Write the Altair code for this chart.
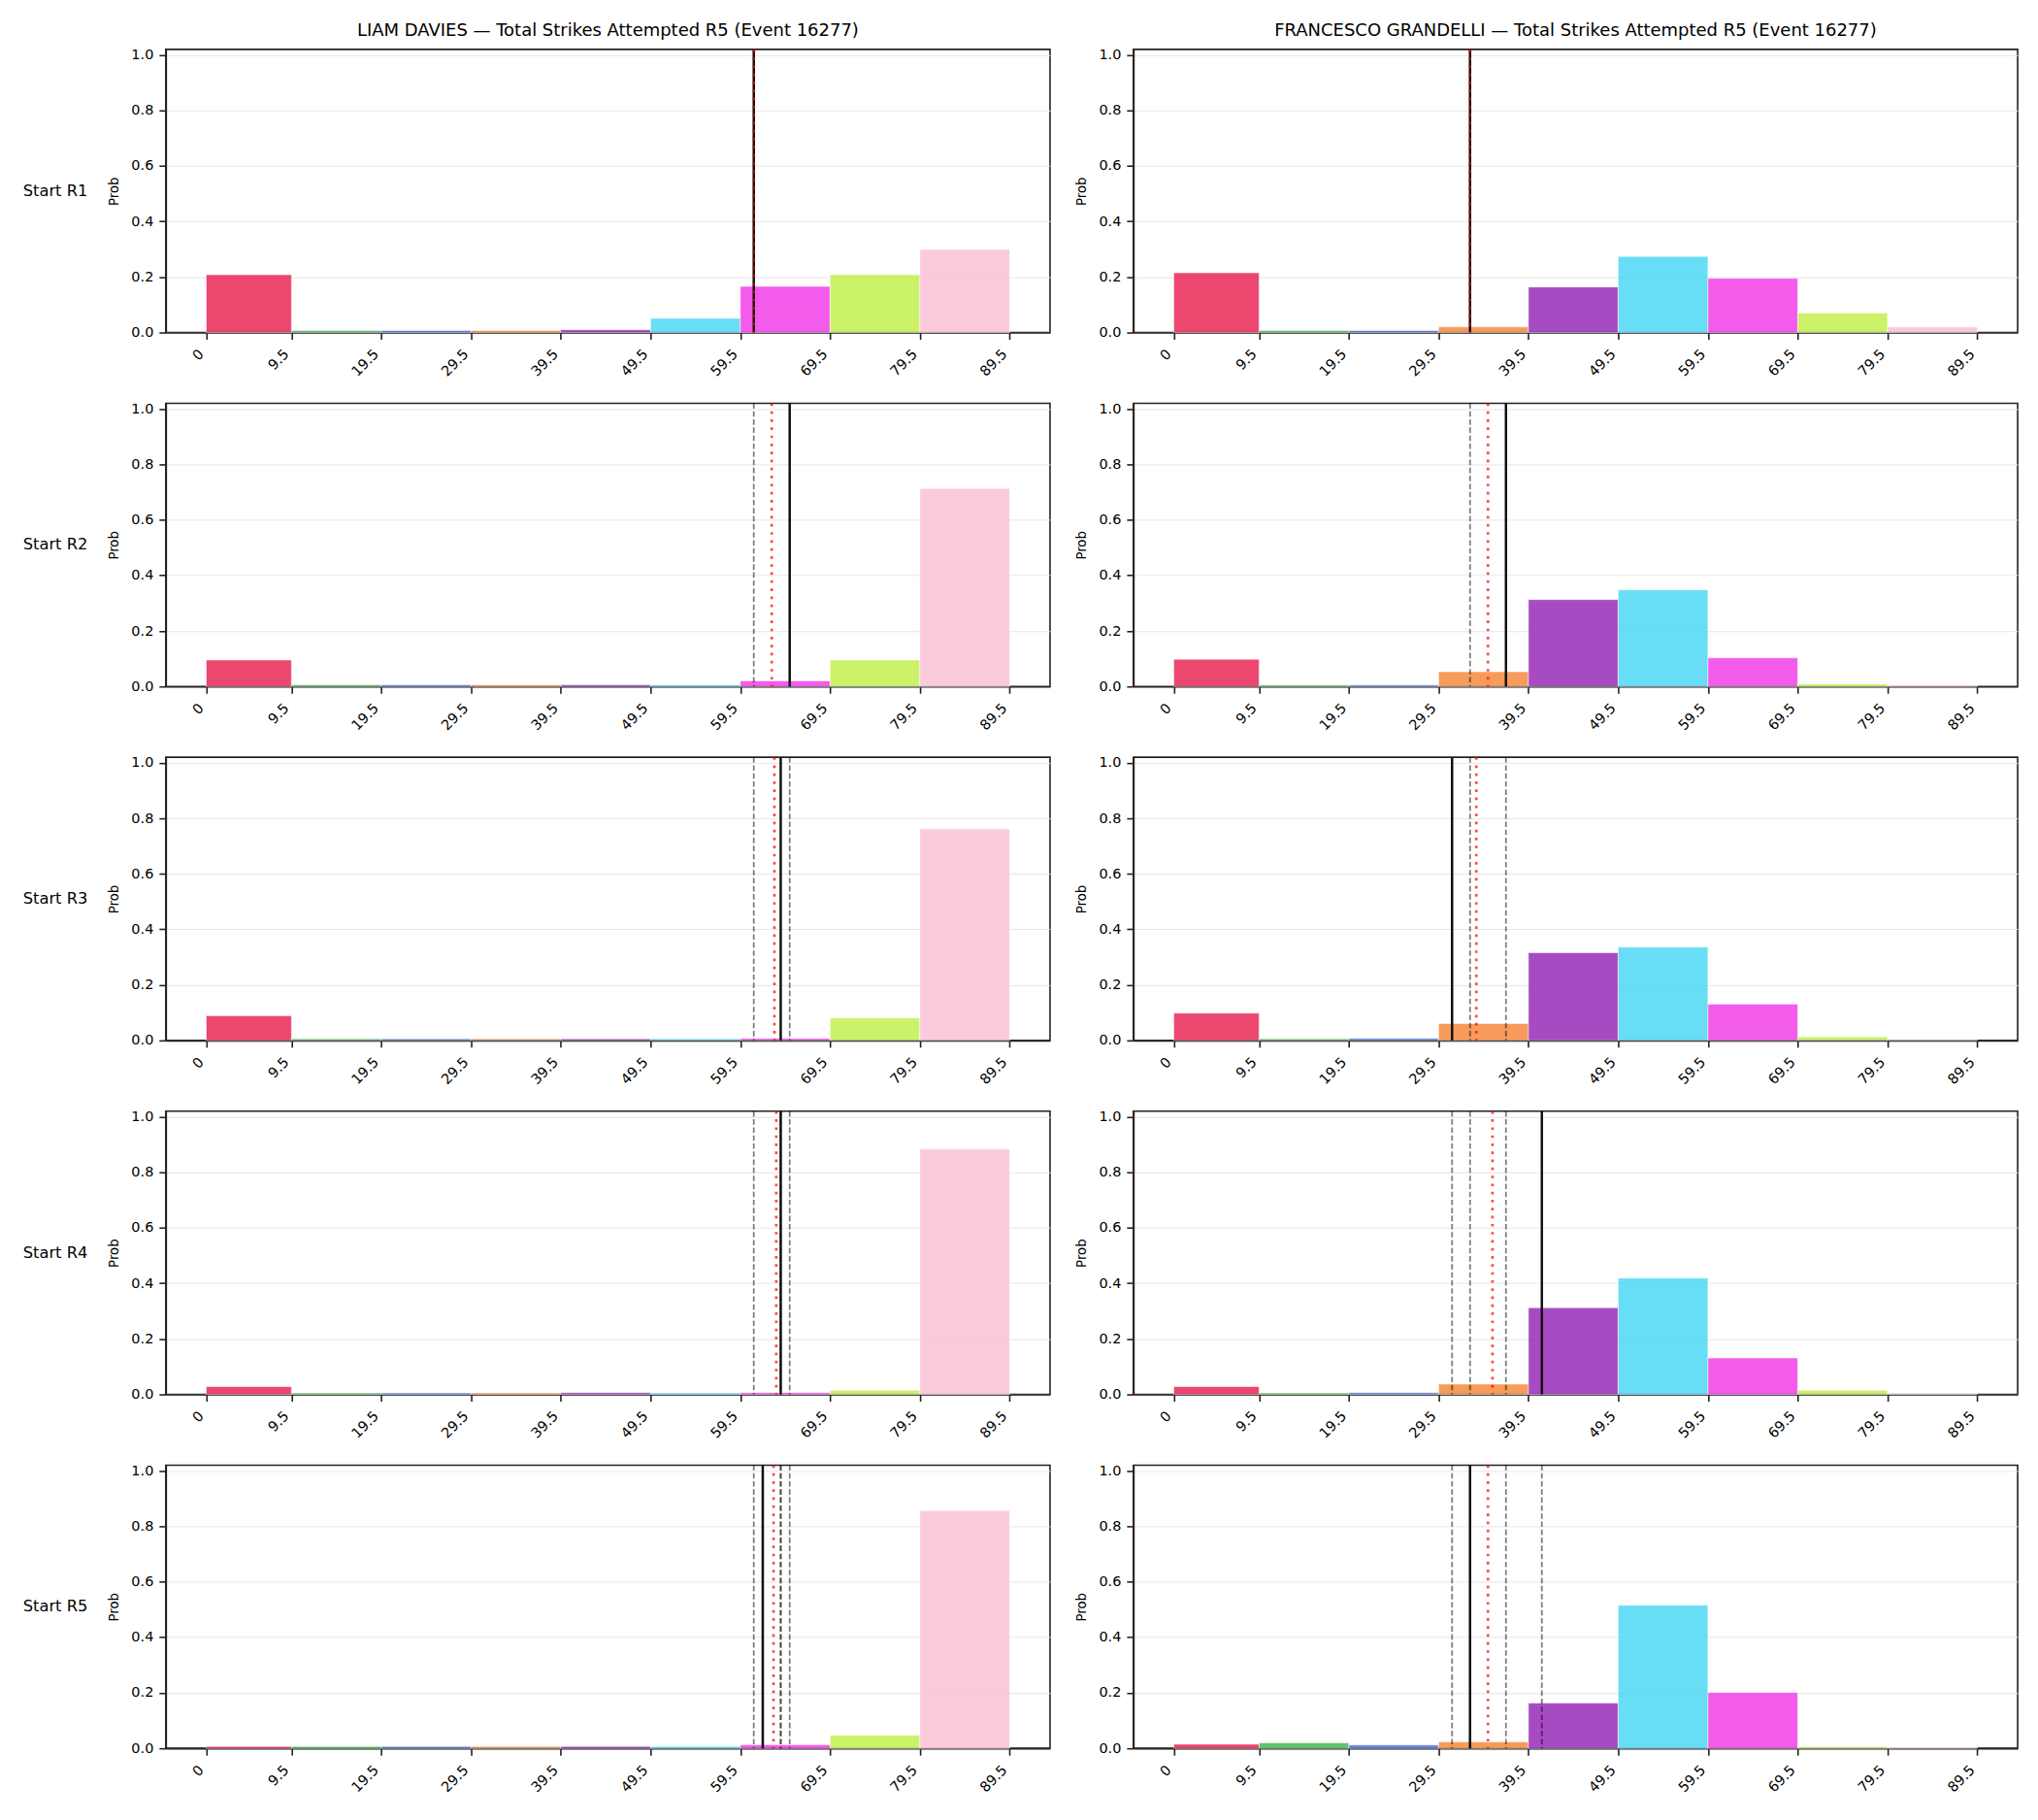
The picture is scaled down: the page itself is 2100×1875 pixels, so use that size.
import altair as alt
import pandas as pd

FONT = "DejaVu Sans"

fighters = ["LIAM DAVIES", "FRANCESCO GRANDELLI"]
panel_titles = [f"{f} — Total Strikes Attempted R5 (Event 16277)" for f in fighters]
starts = ["Start R1", "Start R2", "Start R3", "Start R4", "Start R5"]

bin_lo = [0, 9.5, 19.5, 29.5, 39.5, 49.5, 59.5, 69.5, 79.5]
bin_hi = [9.5, 19.5, 29.5, 39.5, 49.5, 59.5, 69.5, 79.5, 89.5]
bin_names = ["b0", "b1", "b2", "b3", "b4", "b5", "b6", "b7", "b8"]
bin_colors = ["#e6194b", "#3cb44b", "#4363d8", "#f58231", "#911eb4",
              "#42d4f4", "#f032e6", "#bfef45", "#fabed4"]
tick_values = [0, 9.5, 19.5, 29.5, 39.5, 49.5, 59.5, 69.5, 79.5, 89.5]
y_ticks = [0.0, 0.2, 0.4, 0.6, 0.8, 1.0]

liam_probs = [
    [0.208, 0.007, 0.007, 0.007, 0.010, 0.051, 0.166, 0.208, 0.299],
    [0.095, 0.006, 0.006, 0.006, 0.006, 0.006, 0.020, 0.095, 0.713],
    [0.089, 0.006, 0.006, 0.006, 0.006, 0.006, 0.007, 0.081, 0.762],
    [0.028, 0.005, 0.005, 0.005, 0.006, 0.005, 0.006, 0.015, 0.884],
    [0.007, 0.007, 0.007, 0.007, 0.007, 0.007, 0.013, 0.047, 0.856],
]
fran_probs = [
    [0.215, 0.007, 0.007, 0.020, 0.164, 0.274, 0.195, 0.070, 0.020],
    [0.098, 0.005, 0.005, 0.053, 0.313, 0.348, 0.103, 0.009, 0.005],
    [0.098, 0.006, 0.007, 0.061, 0.316, 0.336, 0.131, 0.013, 0.005],
    [0.028, 0.005, 0.006, 0.037, 0.312, 0.419, 0.131, 0.015, 0.004],
    [0.015, 0.020, 0.012, 0.023, 0.163, 0.515, 0.201, 0.006, 0.004],
]

# solid line = value at that start round; dashed = earlier rounds; dotted = running mean
liam_actual = [61, 65, 64, 64, 62]
liam_mean = [61.0, 63.0, 63.3, 63.5, 63.2]
fran_actual = [33, 37, 31, 41, 33]
fran_mean = [33.0, 35.0, 33.7, 35.5, 35.0]

probs_all = [liam_probs, fran_probs]
actual_all = [liam_actual, fran_actual]
mean_all = [liam_mean, fran_mean]

rows = []
for fi, title in enumerate(panel_titles):
    for si, st in enumerate(starts):
        for bi in range(len(bin_lo)):
            rows.append(dict(fighter=title, start=st, kind="bar", lo=bin_lo[bi],
                             hi=bin_hi[bi], prob=probs_all[fi][si][bi], bin=bin_names[bi]))
        for pi in range(si):
            rows.append(dict(fighter=title, start=st, kind="prev", lo=actual_all[fi][pi]))
        rows.append(dict(fighter=title, start=st, kind="actual", lo=actual_all[fi][si]))
        rows.append(dict(fighter=title, start=st, kind="mean", lo=mean_all[fi][si]))
df = pd.DataFrame(rows)

xscale = alt.Scale(domain=[-4.5, 94.0], nice=False, zero=False)
yscale = alt.Scale(domain=[0, 1.02], nice=False)

x_axis = alt.Axis(values=tick_values, title=None, grid=False, labelAngle=-45,
                  labelAlign="right", labelBaseline="top", labelPadding=8,
                  labelOffset=-10,
                  labelExpr="datum.value == 0 ? '0' : format(datum.value, '.1f')")
y_axis = alt.Axis(values=y_ticks, format=".1f", title="Prob", grid=True,
                  gridColor="#e6e6e6", gridWidth=1)

base = alt.Chart()
X = alt.X("lo:Q", scale=xscale, axis=x_axis)

bars = base.transform_filter(alt.datum.kind == "bar").mark_bar(
    fillOpacity=0.8, stroke="white", strokeWidth=0.5
).encode(
    x=X,
    x2="hi:Q",
    y=alt.Y("prob:Q", scale=yscale, axis=y_axis),
    y2=alt.datum(0),
    color=alt.Color("bin:N", scale=alt.Scale(domain=bin_names, range=bin_colors), legend=None),
)

prev = base.transform_filter(alt.datum.kind == "prev").mark_rule(
    color="black", opacity=0.5, strokeDash=[5.6, 2.7], strokeWidth=1.8
).encode(x=X)

actual = base.transform_filter(alt.datum.kind == "actual").mark_rule(
    color="#111111", strokeWidth=2.5
).encode(x=X)

mean = base.transform_filter(alt.datum.kind == "mean").mark_rule(
    color="red", opacity=0.72, strokeDash=[2.7, 5.6], strokeWidth=2.7
).encode(x=X)

layered = alt.layer(bars, prev, actual, mean, data=df).properties(width=912, height=292)

chart = layered.facet(
    row=alt.Row("start:N", sort=starts,
                header=alt.Header(title=None, labelAngle=0, labelOrient="left",
                                  labelAlign="right", labelFont=FONT, labelFontSize=16.3,
                                  labelColor="black", labelPadding=-47)),
    column=alt.Column("fighter:N", sort=panel_titles,
                      header=alt.Header(title=None, labelOrient="top", labelFont=FONT,
                                        labelFontSize=18, labelColor="black", labelPadding=6)),
    spacing={"row": 20, "column": 24},
).resolve_axis(
    x="independent", y="independent"
).properties(
    padding={"left": 23, "top": 22, "right": 20, "bottom": 0},
    background="white",
).configure_view(
    stroke="#222222", strokeWidth=1.6
).configure_axis(
    domainColor="#222222", domainWidth=1.6, tickColor="#222222", tickWidth=1.6,
    tickSize=7, labelFont=FONT, labelFontSize=14.5, labelColor="black",
    titleFont=FONT, titleFontSize=13.3, titleFontWeight="normal", titleColor="black",
    titlePadding=10, labelPadding=6
)

chart.save("out.html", embed_options={"renderer": "svg", "actions": False})
